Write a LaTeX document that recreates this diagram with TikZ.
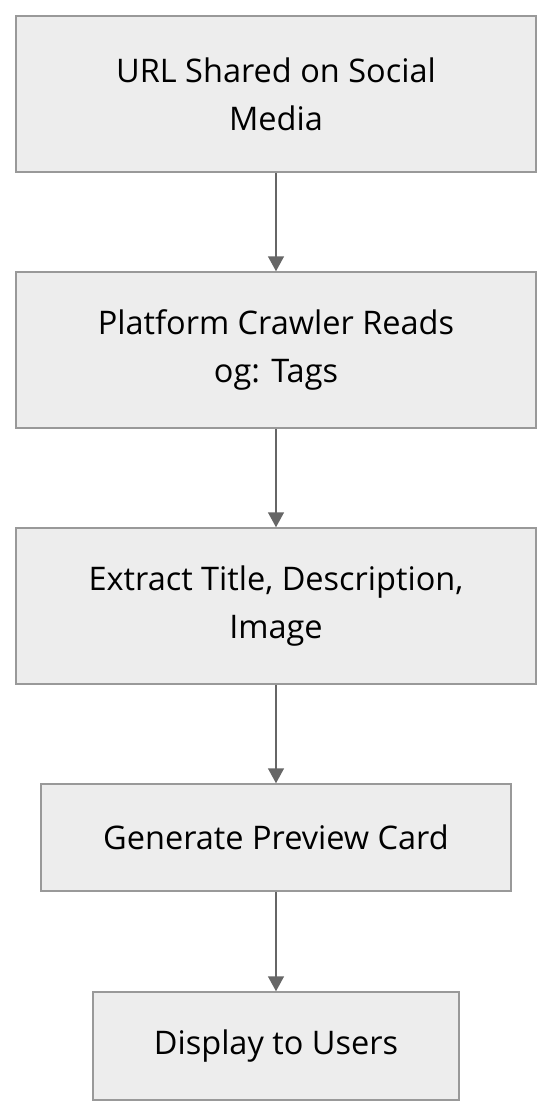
\documentclass[tikz,border=0pt]{standalone}
\usepackage{fontspec}
\setmainfont{Open Sans}
\usetikzlibrary{arrows.meta}
\definecolor{boxfill}{HTML}{EDEDED}
\definecolor{boxline}{HTML}{999999}
\definecolor{arrowc}{HTML}{666666}
\begin{document}
\begin{tikzpicture}[x=1pt,y=1pt,
  flowbox/.style={draw=boxline, fill=boxfill, line width=1.5pt, inner sep=0pt, align=center,
    font=\fontsize{32.5}{48}\selectfont},
  flowarrow/.style={draw=arrowc, line width=1.5pt, -{Triangle[length=15pt,width=16pt]}}]
\useasboundingbox (0,0) rectangle (552,-1116);
\node[flowbox, minimum width=520pt, minimum height=156pt] (a) at (276,-94) {URL Shared on Social\\Media};
\node[flowbox, minimum width=520pt, minimum height=156pt] (b) at (276,-350) {Platform Crawler Reads\\og: Tags};
\node[flowbox, minimum width=520pt, minimum height=156pt] (c) at (276,-606) {Extract Title, Description,\\Image};
\node[flowbox, minimum width=470pt, minimum height=107pt] (d) at (276,-837.5) {Generate Preview Card};
\node[flowbox, minimum width=366pt, minimum height=108pt] (e) at (276,-1046) {Display to Users};
\draw[flowarrow] (a) -- (b);
\draw[flowarrow] (b) -- (c);
\draw[flowarrow] (c) -- (d);
\draw[flowarrow] (d) -- (e);
\end{tikzpicture}
\end{document}
